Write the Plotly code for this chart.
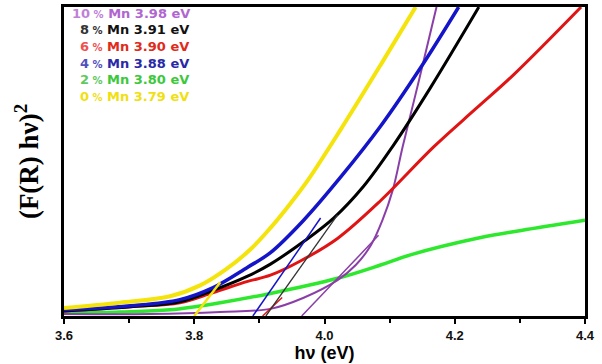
import plotly.graph_objects as go

# ---- data ----
x_yellow = [3.600, 3.686, 3.763, 3.809, 3.848, 3.886, 3.917, 3.948, 3.974, 4.025, 4.086, 4.140]
y_yellow = [2.6, 4.3, 6.4, 9.9, 15.0, 21.5, 28.5, 36.5, 43.8, 60.4, 81.2, 100.0]

x_blue = [3.600, 3.702, 3.778, 3.829, 3.882, 3.917, 3.968, 4.025, 4.086, 4.148, 4.206]
y_blue = [2.0, 3.3, 5.3, 9.2, 15.8, 20.5, 31.0, 45.0, 61.4, 80.5, 100.0]

x_black = [3.600, 3.702, 3.778, 3.829, 3.882, 3.917, 3.968, 4.014, 4.060, 4.105, 4.163, 4.237]
y_black = [1.65, 3.0, 4.6, 8.3, 12.9, 16.8, 24.1, 31.7, 42.0, 55.0, 74.0, 100.0]

x_red = [3.600, 3.702, 3.778, 3.829, 3.882, 3.917, 3.963, 4.020, 4.086, 4.168, 4.232, 4.291, 4.394]
y_red = [1.65, 3.0, 4.3, 7.6, 11.2, 13.2, 17.8, 25.1, 37.3, 54.8, 67.0, 78.2, 100.0]

x_green = [3.600, 3.686, 3.763, 3.840, 3.917, 4.020, 4.086, 4.132, 4.240, 4.302, 4.400]
y_green = [1.0, 1.3, 2.0, 4.3, 7.3, 12.2, 16.5, 19.8, 25.4, 27.7, 31.0]

x_purple = [3.600, 3.732, 3.840, 3.917, 3.968, 4.020, 4.048, 4.071, 4.089, 4.105, 4.120, 4.145, 4.172]
y_purple = [0.66, 0.66, 1.3, 2.3, 5.9, 11.6, 16.5, 22.8, 31.0, 40.9, 54.8, 76.2, 100.0]

# tangent (extrapolation) lines: [start, end]
tan_yellow_x = [3.800, 3.840]; tan_yellow_y = [0.0, 10.9]
tan_blue_x = [3.890, 3.994];   tan_blue_y = [0.0, 31.7]
tan_red_x = [3.905, 3.935];    tan_red_y = [0.0, 6.0]
tan_black_x = [3.910, 4.020];  tan_black_y = [0.0, 32.7]
tan_purple_x = [3.965, 4.083]; tan_purple_y = [0.0, 26.1]

legend_pct = ["10", "8", "6", "4", "2", "0"]
legend_eg = ["3.98", "3.91", "3.90", "3.88", "3.80", "3.79"]

x_ticks = [3.6, 3.8, 4.0, 4.2, 4.4]
x_ticklabels = ["3.6", "3.8", "4.0", "4.2", "4.4"]

# ---- styles ----
C_YEL = "#f4e40c"
C_BLU = "#1414c8"
C_BLK = "#000000"
C_RED = "#e01414"
C_GRN = "#2ee82e"
C_PUR = "#8a3fa8"

fig = go.Figure()

def add(x, y, color, width):
    fig.add_trace(go.Scatter(x=x, y=y, mode="lines",
                             line=dict(color=color, width=width, shape="spline", smoothing=1.0),
                             showlegend=False, hoverinfo="skip"))

add(x_green, y_green, C_GRN, 3.5)
add(x_purple, y_purple, C_PUR, 2)
add(x_red, y_red, C_RED, 3)
add(x_black, y_black, C_BLK, 3)
add(x_blue, y_blue, C_BLU, 3.5)
add(x_yellow, y_yellow, C_YEL, 4)

for tx, ty, c, w in [(tan_yellow_x, tan_yellow_y, C_YEL, 2.5), (tan_blue_x, tan_blue_y, C_BLU, 1.5),
                     (tan_red_x, tan_red_y, C_RED, 1.5), (tan_black_x, tan_black_y, "#333333", 1.3),
                     (tan_purple_x, tan_purple_y, C_PUR, 1.5)]:
    fig.add_trace(go.Scatter(x=tx, y=ty, mode="lines", line=dict(color=c, width=w),
                             showlegend=False, hoverinfo="skip"))

# legend text (colored)
leg_colors = ["#b066d0", "#111111", "#e02a1a", "#2828a8", "#3cc83c", "#f0e010"]
pct_colors = ["#c080d8", "#333333", "#f05050", "#5050c0", "#60c860", "#f0e010"]
W, H = 602, 364
L, R, T, B = 64, 17, 4, 46
pw, ph = W - L - R, H - T - B
row_y = [11, 27, 44, 61, 78, 95]
for i in range(len(legend_pct)):
    x0 = 70 if len(legend_pct[i]) == 2 else 78
    txt = (f"<b><span style='color:{pct_colors[i]}'>{legend_pct[i]}</span>"
           f"<span style='color:{pct_colors[i]};font-size:10px'> %</span>"
           f"<span style='color:{leg_colors[i]}'> Mn {legend_eg[i]} eV</span></b>")
    fig.add_annotation(x=(x0 - L) / pw, y=(H - B - row_y[i]) / ph, xref="paper", yref="paper",
                       xanchor="left", yanchor="middle", showarrow=False, text=txt,
                       font=dict(family="DejaVu Sans", size=13, color=leg_colors[i]))

fig.update_layout(
    width=W, height=H, margin=dict(l=L, r=R, t=T, b=B),
    paper_bgcolor="white", plot_bgcolor="white",
    xaxis=dict(range=[3.6, 4.4], tickvals=x_ticks, ticktext=x_ticklabels, ticks="outside", ticklen=5,
               tickwidth=2, tickcolor="black", showline=True, linewidth=3, linecolor="black", mirror=True,
               showgrid=False, zeroline=False,
               minor=dict(dtick=0.1, tick0=3.6, ticks="outside", ticklen=4, tickwidth=2, tickcolor="black"),
               tickfont=dict(family="Liberation Sans", size=13, color="#111111", weight="bold"),
               title=dict(text="<b>hν (eV)</b>", font=dict(family="Liberation Sans", size=18, color="black"),
                          standoff=5)),
    yaxis=dict(range=[0, 100], showticklabels=False, ticks="", showline=True, linewidth=3, linecolor="black",
               mirror=True, showgrid=False, zeroline=False,
               title=dict(text="<b>(F(R) hν)<sup>2</sup></b>",
                          font=dict(family="Liberation Serif", size=27, color="black"), standoff=15)),
)

fig.write_html("out.html")
